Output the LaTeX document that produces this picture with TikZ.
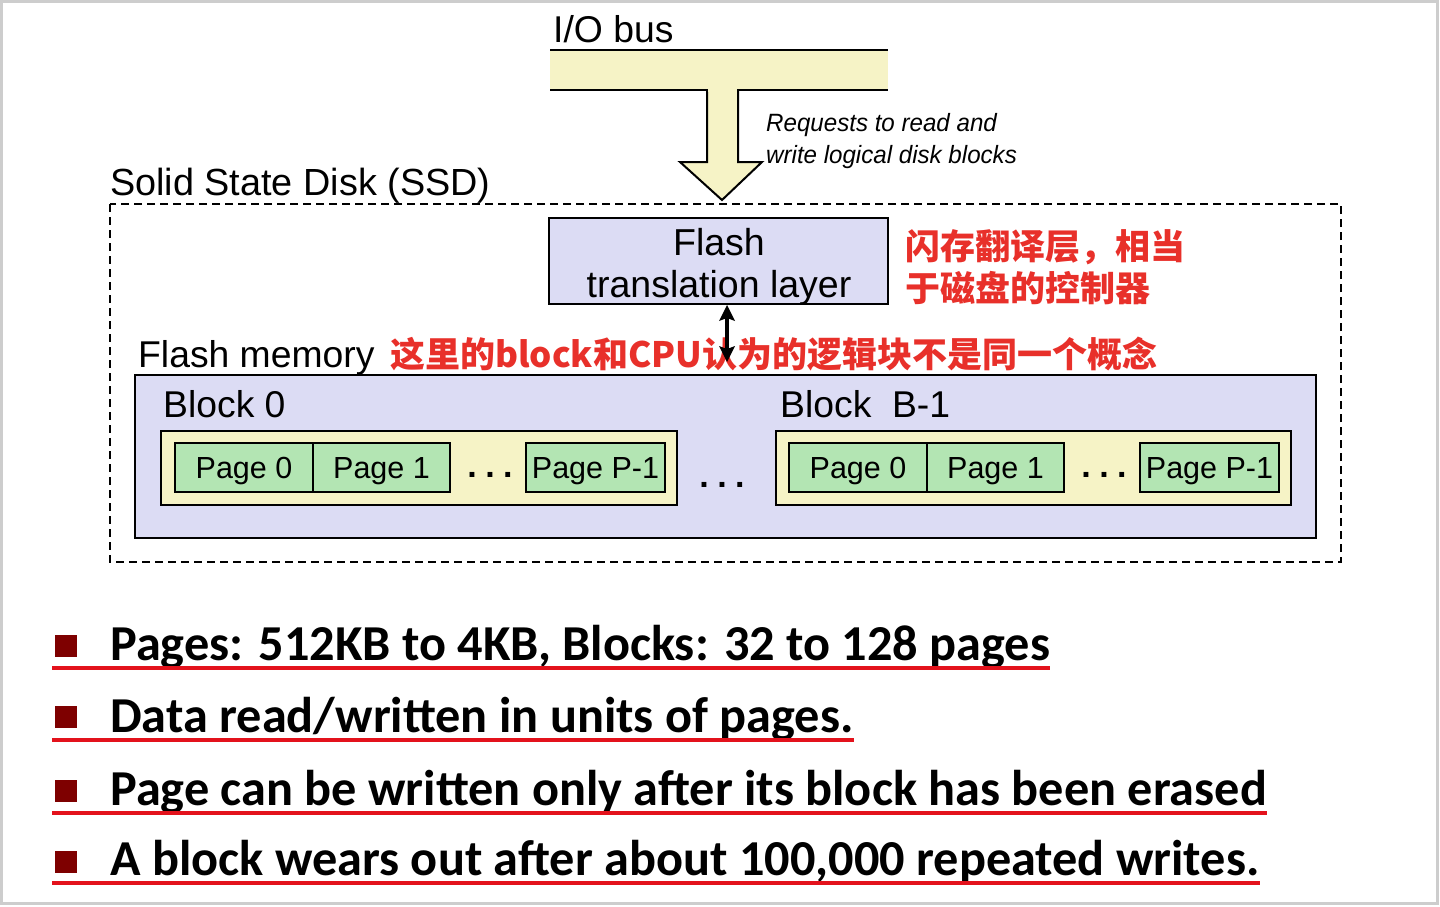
\documentclass[tikz,border=0pt]{standalone}
\usepackage{fontspec}
\setmainfont{Liberation Sans}
\newfontfamily\cjk{Noto Sans CJK SC}
\newfontfamily\bulletfont{Carlito}
\usetikzlibrary{arrows.meta}

\definecolor{lav}{HTML}{DCDCF4}
\definecolor{busyellow}{HTML}{F6F3C6}
\definecolor{pagegreen}{HTML}{B3E5B3}
\definecolor{notered}{HTML}{E8302A}
\definecolor{ulred}{HTML}{E3121C}
\definecolor{bulletred}{HTML}{7E0000}
\definecolor{framegray}{HTML}{CDCDCD}

\newcommand{\fs}[1]{\fontsize{#1pt}{#1pt}\selectfont}
\newcommand{\threedots}{.\hspace{8.5pt}.\hspace{8.5pt}.}

\tikzset{
  box/.style={draw=black, line width=2pt, inner sep=0pt},
  lavbox/.style={box, fill=lav},
  yelbox/.style={box, fill=busyellow},
  pagebox/.style={box, fill=pagegreen, minimum height=49pt, text height=22pt, text depth=0pt,
                  font=\fs{30.5}},
  lbl/.style={anchor=base west, inner sep=0pt, font=\fs{37.3}},
  note/.style={anchor=base west, inner sep=0pt, text=notered, font=\cjk\bfseries\fs{35}},
  dots/.style={anchor=base, inner sep=0pt, font=\bfseries\fs{34}},
  bullettext/.style={anchor=base west, inner sep=0pt, font=\bulletfont\bfseries\fs{50.3}},
  bulletsq/.style={fill=bulletred, minimum size=22pt, inner sep=0pt},
  uline/.style={draw=ulred, line width=4pt},
  linkshaft/.style={draw=black, line width=4pt, shorten <=12pt, shorten >=12pt},
  linkhead/.style={fill=black},
}

\begin{document}
\begin{tikzpicture}[x=1pt, y=-1pt]
  \useasboundingbox (0,0) rectangle (1440,906);
  \draw[framegray, line width=3pt] (1.5,1.5) rectangle (1437.5,903.5);

  % I/O bus with its downward arrow
  \node[lbl] (busl) at (553,42) {I/O bus};
  \fill[busyellow] (550,50) rectangle (888,90);
  \filldraw[fill=busyellow, draw=black, line width=2pt, line join=miter]
    (707,89) -- (707,162) -- (680,162) -- (722,200) -- (762,162) -- (738,162) -- (738,89);
  \fill[busyellow] (708,85) rectangle (737,92);
  \draw[line width=2pt] (550,50) -- (888,50);
  \draw[line width=2pt] (550,90) -- (707,90) (738,90) -- (888,90);
  \node[anchor=base west, inner sep=0pt, font=\itshape\fs{25}, xscale=0.965] (req1) at (766,131) {Requests to read and};
  \node[anchor=base west, inner sep=0pt, font=\itshape\fs{25}, xscale=0.965] (req2) at (766,163) {write logical disk blocks};

  % SSD enclosure
  \node[lbl, font=\fs{37.8}] (ssdl) at (110,195) {Solid State Disk (SSD)};
  \draw[line width=2pt, dash pattern=on 8pt off 5pt] (110,204) rectangle (1341,562);

  % Flash translation layer
  \node[lavbox, minimum width=339pt, minimum height=86pt] (ftl) at (718.5,261) {};
  \node[anchor=base, inner sep=0pt, font=\fs{37.5}] (ftl1) at (719,255) {Flash};
  \node[anchor=base, inner sep=0pt, font=\fs{37.5}] (ftl2) at (719,297) {translation layer};
  \node[note] (n1) at (905,259) {闪存翻译层，相当};
  \node[note] (n2) at (905,301) {于磁盘的控制器};

  % Flash memory
  \node[lavbox, minimum width=1181pt, minimum height=163pt] (mem) at (725.5,456.5) {};
  \node[lbl] (meml) at (138,367) {Flash memory};
  \node[note] (n3) at (390,367) {这里的block和CPU认为的逻辑块不是同一个概念};

  % two-way link between the translation layer and the flash memory
  \coordinate (memtop) at (727,362);
  \coordinate (ftlbot) at (ftl.south -| memtop);
  \draw[linkshaft] (ftlbot) -- (memtop);
  \fill[linkhead] (ftlbot) -- ++(-8,16) -- ++(8,-3) -- ++(8,3) -- cycle;
  \fill[linkhead] (memtop) -- ++(-8,-16) -- ++(8,3) -- ++(8,-3) -- cycle;

  % Block 0
  \node[lbl] (b0l) at (163,417) {Block 0};
  \node[yelbox, minimum width=516pt, minimum height=74pt] (b0) at (419,468) {};
  \node[pagebox, minimum width=138pt] (b0p0) at (244,467.5) {Page 0};
  \node[pagebox, minimum width=137pt] (b0p1) at (381.5,467.5) {Page 1};
  \node[dots] (b0d) at (490,477) {\threedots};
  \node[pagebox, minimum width=139pt] (b0pl) at (595.5,467.5) {Page P-1};

  \node[dots] (midd) at (722,487) {\threedots};

  % Block B-1
  \node[lbl] (b1l) at (780,417) {Block\ \ B-1};
  \node[yelbox, minimum width=515pt, minimum height=74pt] (b1) at (1033.5,468) {};
  \node[pagebox, minimum width=138pt] (b1p0) at (858,467.5) {Page 0};
  \node[pagebox, minimum width=137pt] (b1p1) at (995.5,467.5) {Page 1};
  \node[dots] (b1d) at (1104,477) {\threedots};
  \node[pagebox, minimum width=139pt] (b1pl) at (1209.5,467.5) {Page P-1};

  % Bullet list
  \node[bulletsq] (s1) at (66,646) {};
  \node[bullettext] (t1) at (110,660) {Pages: 512KB to 4KB, Blocks: 32 to 128 pages};
  \draw[uline] (52,668) -- (t1.base east |- 0,668);
  \node[bulletsq] (s2) at (66,717) {};
  \node[bullettext] (t2) at (110,732) {Data read/written in units of pages.};
  \draw[uline] (52,740) -- (t2.base east |- 0,740);
  \node[bulletsq] (s3) at (66,791) {};
  \node[bullettext] (t3) at (110,805) {Page can be written only after its block has been erased};
  \draw[uline] (52,813) -- (t3.base east |- 0,813);
  \node[bulletsq] (s4) at (66,862) {};
  \node[bullettext] (t4) at (110,875) {A block wears out after about 100,000 repeated writes.};
  \draw[uline] (52,883) -- (t4.base east |- 0,883);
\end{tikzpicture}
\end{document}
